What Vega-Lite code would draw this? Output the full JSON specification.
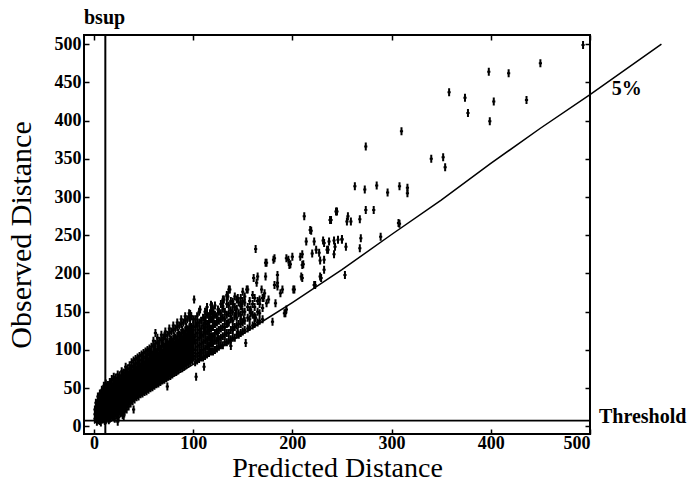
{
  "$schema": "https://vega.github.io/schema/vega-lite/v6.json",
  "width": 506,
  "height": 399,
  "autosize": {"type": "none"},
  "padding": {"left": 84, "top": 35, "right": 99, "bottom": 47},
  "background": "white",
  "config": {
    "view": {"stroke": "black", "strokeWidth": 2},
    "axis": {
      "domain": false, "grid": false, "tickColor": "black", "tickWidth": 1.5, "tickSize": -5,
      "labelFont": "Liberation Serif", "labelFontWeight": "bold", "labelFontSize": 18, "labelColor": "black",
      "titleFont": "Liberation Serif", "titleFontWeight": "normal", "titleFontSize": 28, "titleColor": "black"
    }
  },
  "datasets": {
    "pts": [
      {"x":1,"y":10},{"x":1,"y":16},{"x":1,"y":22},
      {"x":3,"y":6},{"x":3,"y":12},{"x":3,"y":18},{"x":3,"y":24},{"x":3,"y":30},
      {"x":5,"y":8},{"x":5,"y":14},{"x":5,"y":20},{"x":5,"y":26},{"x":5,"y":32},{"x":5,"y":38},
      {"x":7,"y":5},{"x":7,"y":11},{"x":7,"y":17},{"x":7,"y":23},{"x":7,"y":29},{"x":7,"y":35},{"x":7,"y":42},
      {"x":9,"y":9},{"x":9,"y":15},{"x":9,"y":21},{"x":9,"y":27},{"x":9,"y":33},{"x":9,"y":39},{"x":9,"y":46},
      {"x":11,"y":7},{"x":11,"y":13},{"x":11,"y":19},{"x":11,"y":25},{"x":11,"y":31},{"x":11,"y":37},{"x":11,"y":43},{"x":11,"y":50},
      {"x":13,"y":10},{"x":13,"y":16},{"x":13,"y":22},{"x":13,"y":28},{"x":13,"y":34},{"x":13,"y":40},{"x":13,"y":46},
      {"x":15,"y":8},{"x":15,"y":14},{"x":15,"y":20},{"x":15,"y":26},{"x":15,"y":32},{"x":15,"y":38},{"x":15,"y":44},{"x":15,"y":52},
      {"x":17,"y":11},{"x":17,"y":17},{"x":17,"y":23},{"x":17,"y":29},{"x":17,"y":35},{"x":17,"y":41},{"x":17,"y":47},{"x":17,"y":56},
      {"x":19,"y":13},{"x":19,"y":19},{"x":19,"y":25},{"x":19,"y":31},{"x":19,"y":37},{"x":19,"y":43},{"x":19,"y":49},
      {"x":21,"y":10},{"x":21,"y":16},{"x":21,"y":22},{"x":21,"y":28},{"x":21,"y":34},{"x":21,"y":40},{"x":21,"y":46},{"x":21,"y":52},{"x":21,"y":60},
      {"x":23,"y":14},{"x":23,"y":20},{"x":23,"y":26},{"x":23,"y":32},{"x":23,"y":38},{"x":23,"y":44},{"x":23,"y":50},{"x":23,"y":56},
      {"x":25,"y":12},{"x":25,"y":18},{"x":25,"y":24},{"x":25,"y":30},{"x":25,"y":36},{"x":25,"y":42},{"x":25,"y":48},{"x":25,"y":54},{"x":25,"y":62},
      {"x":27,"y":17},{"x":27,"y":23},{"x":27,"y":29},{"x":27,"y":35},{"x":27,"y":41},{"x":27,"y":47},{"x":27,"y":53},{"x":27,"y":59},
      {"x":29,"y":15},{"x":29,"y":21},{"x":29,"y":27},{"x":29,"y":33},{"x":29,"y":39},{"x":29,"y":45},{"x":29,"y":51},{"x":29,"y":57},{"x":29,"y":66},
      {"x":31,"y":19},{"x":31,"y":25},{"x":31,"y":31},{"x":31,"y":37},{"x":31,"y":43},{"x":31,"y":49},{"x":31,"y":55},{"x":31,"y":61},
      {"x":33,"y":22},{"x":33,"y":28},{"x":33,"y":34},{"x":33,"y":40},{"x":33,"y":46},{"x":33,"y":52},{"x":33,"y":58},{"x":33,"y":64},{"x":33,"y":70},
      {"x":35,"y":26},{"x":35,"y":32},{"x":35,"y":38},{"x":35,"y":44},{"x":35,"y":50},{"x":35,"y":56},{"x":35,"y":62},{"x":35,"y":68},
      {"x":37,"y":30},{"x":37,"y":36},{"x":37,"y":42},{"x":37,"y":48},{"x":37,"y":54},{"x":37,"y":60},{"x":37,"y":66},{"x":37,"y":74},
      {"x":39,"y":33},{"x":39,"y":39},{"x":39,"y":45},{"x":39,"y":51},{"x":39,"y":57},{"x":39,"y":63},{"x":39,"y":69},
      {"x":41,"y":35},{"x":41,"y":41},{"x":41,"y":47},{"x":41,"y":53},{"x":41,"y":59},{"x":41,"y":65},{"x":41,"y":71},{"x":41,"y":78},
      {"x":43,"y":38},{"x":43,"y":44},{"x":43,"y":50},{"x":43,"y":56},{"x":43,"y":62},{"x":43,"y":68},{"x":43,"y":74},
      {"x":45,"y":39},{"x":45,"y":45},{"x":45,"y":51},{"x":45,"y":57},{"x":45,"y":63},{"x":45,"y":69},{"x":45,"y":75},{"x":45,"y":84},
      {"x":47,"y":42},{"x":47,"y":48},{"x":47,"y":54},{"x":47,"y":60},{"x":47,"y":66},{"x":47,"y":72},{"x":47,"y":78},
      {"x":49,"y":43},{"x":49,"y":49},{"x":49,"y":55},{"x":49,"y":61},{"x":49,"y":67},{"x":49,"y":73},{"x":49,"y":79},{"x":49,"y":88},
      {"x":51,"y":45},{"x":51,"y":51},{"x":51,"y":57},{"x":51,"y":63},{"x":51,"y":69},{"x":51,"y":75},{"x":51,"y":81},
      {"x":53,"y":46},{"x":53,"y":52},{"x":53,"y":58},{"x":53,"y":64},{"x":53,"y":70},{"x":53,"y":76},{"x":53,"y":82},{"x":53,"y":90},
      {"x":55,"y":48},{"x":55,"y":54},{"x":55,"y":60},{"x":55,"y":66},{"x":55,"y":72},{"x":55,"y":78},{"x":55,"y":84},
      {"x":57,"y":50},{"x":57,"y":56},{"x":57,"y":62},{"x":57,"y":68},{"x":57,"y":74},{"x":57,"y":80},{"x":57,"y":86},{"x":57,"y":96},
      {"x":59,"y":51},{"x":59,"y":57},{"x":59,"y":63},{"x":59,"y":69},{"x":59,"y":75},{"x":59,"y":81},{"x":59,"y":87},{"x":59,"y":93},
      {"x":61,"y":53},{"x":61,"y":59},{"x":61,"y":65},{"x":61,"y":71},{"x":61,"y":77},{"x":61,"y":83},{"x":61,"y":89},{"x":61,"y":100},
      {"x":63,"y":55},{"x":63,"y":61},{"x":63,"y":67},{"x":63,"y":73},{"x":63,"y":79},{"x":63,"y":85},{"x":63,"y":91},{"x":63,"y":97},
      {"x":65,"y":56},{"x":65,"y":62},{"x":65,"y":68},{"x":65,"y":74},{"x":65,"y":80},{"x":65,"y":86},{"x":65,"y":92},{"x":65,"y":104},
      {"x":67,"y":58},{"x":67,"y":64},{"x":67,"y":70},{"x":67,"y":76},{"x":67,"y":82},{"x":67,"y":88},{"x":67,"y":94},{"x":67,"y":100},
      {"x":69,"y":60},{"x":69,"y":66},{"x":69,"y":72},{"x":69,"y":78},{"x":69,"y":84},{"x":69,"y":90},{"x":69,"y":96},{"x":69,"y":108},
      {"x":71,"y":61},{"x":71,"y":67},{"x":71,"y":73},{"x":71,"y":79},{"x":71,"y":85},{"x":71,"y":91},{"x":71,"y":97},{"x":71,"y":103},
      {"x":73,"y":63},{"x":73,"y":69},{"x":73,"y":75},{"x":73,"y":81},{"x":73,"y":87},{"x":73,"y":93},{"x":73,"y":99},{"x":73,"y":110},
      {"x":75,"y":65},{"x":75,"y":71},{"x":75,"y":77},{"x":75,"y":83},{"x":75,"y":89},{"x":75,"y":95},{"x":75,"y":101},{"x":75,"y":107},
      {"x":77,"y":66},{"x":77,"y":72},{"x":77,"y":78},{"x":77,"y":84},{"x":77,"y":90},{"x":77,"y":96},{"x":77,"y":102},{"x":77,"y":114},
      {"x":79,"y":68},{"x":79,"y":74},{"x":79,"y":80},{"x":79,"y":86},{"x":79,"y":92},{"x":79,"y":98},{"x":79,"y":104},{"x":79,"y":110},
      {"x":81,"y":70},{"x":81,"y":76},{"x":81,"y":82},{"x":81,"y":88},{"x":81,"y":94},{"x":81,"y":100},{"x":81,"y":106},{"x":81,"y":118},
      {"x":83,"y":71},{"x":83,"y":77},{"x":83,"y":83},{"x":83,"y":89},{"x":83,"y":95},{"x":83,"y":101},{"x":83,"y":107},{"x":83,"y":113},
      {"x":85,"y":73},{"x":85,"y":79},{"x":85,"y":85},{"x":85,"y":91},{"x":85,"y":97},{"x":85,"y":103},{"x":85,"y":109},{"x":85,"y":122},
      {"x":87,"y":75},{"x":87,"y":81},{"x":87,"y":87},{"x":87,"y":93},{"x":87,"y":99},{"x":87,"y":105},{"x":87,"y":111},{"x":87,"y":117},
      {"x":89,"y":76},{"x":89,"y":82},{"x":89,"y":88},{"x":89,"y":94},{"x":89,"y":100},{"x":89,"y":106},{"x":89,"y":112},{"x":89,"y":126},
      {"x":91,"y":78},{"x":91,"y":84},{"x":91,"y":90},{"x":91,"y":96},{"x":91,"y":102},{"x":91,"y":108},{"x":91,"y":114},{"x":91,"y":120},
      {"x":93,"y":80},{"x":93,"y":86},{"x":93,"y":92},{"x":93,"y":98},{"x":93,"y":104},{"x":93,"y":110},{"x":93,"y":116},{"x":93,"y":130},
      {"x":95,"y":82},{"x":95,"y":88},{"x":95,"y":94},{"x":95,"y":100},{"x":95,"y":106},{"x":95,"y":112},{"x":95,"y":118},{"x":95,"y":124},
      {"x":97,"y":84},{"x":97,"y":90},{"x":97,"y":96},{"x":97,"y":102},{"x":97,"y":108},{"x":97,"y":114},{"x":97,"y":120},{"x":97,"y":134},
      {"x":99,"y":86},{"x":99,"y":92},{"x":99,"y":98},{"x":99,"y":104},{"x":99,"y":110},{"x":99,"y":116},{"x":99,"y":122},
      {"x":2,"y":13},{"x":2,"y":19},{"x":2,"y":25},{"x":2,"y":31},
      {"x":4,"y":9},{"x":4,"y":15},{"x":4,"y":21},{"x":4,"y":27},{"x":4,"y":33},{"x":4,"y":39},
      {"x":6,"y":7},{"x":6,"y":13},{"x":6,"y":19},{"x":6,"y":25},{"x":6,"y":31},{"x":6,"y":37},{"x":6,"y":43},
      {"x":8,"y":12},{"x":8,"y":18},{"x":8,"y":24},{"x":8,"y":30},{"x":8,"y":36},{"x":8,"y":42},{"x":8,"y":48},
      {"x":10,"y":10},{"x":10,"y":16},{"x":10,"y":22},{"x":10,"y":28},{"x":10,"y":34},{"x":10,"y":40},{"x":10,"y":46},{"x":10,"y":53},
      {"x":12,"y":8},{"x":12,"y":14},{"x":12,"y":20},{"x":12,"y":26},{"x":12,"y":32},{"x":12,"y":38},{"x":12,"y":44},{"x":12,"y":50},{"x":12,"y":56},
      {"x":14,"y":12},{"x":14,"y":18},{"x":14,"y":24},{"x":14,"y":30},{"x":14,"y":36},{"x":14,"y":42},{"x":14,"y":48},{"x":14,"y":54},
      {"x":16,"y":10},{"x":16,"y":16},{"x":16,"y":22},{"x":16,"y":28},{"x":16,"y":34},{"x":16,"y":40},{"x":16,"y":46},{"x":16,"y":52},{"x":16,"y":58},
      {"x":18,"y":14},{"x":18,"y":20},{"x":18,"y":26},{"x":18,"y":32},{"x":18,"y":38},{"x":18,"y":44},{"x":18,"y":50},{"x":18,"y":56},{"x":18,"y":62},
      {"x":20,"y":12},{"x":20,"y":18},{"x":20,"y":24},{"x":20,"y":30},{"x":20,"y":36},{"x":20,"y":42},{"x":20,"y":48},{"x":20,"y":54},{"x":20,"y":60},{"x":20,"y":65},
      {"x":22,"y":17},{"x":22,"y":23},{"x":22,"y":29},{"x":22,"y":35},{"x":22,"y":41},{"x":22,"y":47},{"x":22,"y":53},{"x":22,"y":59},{"x":22,"y":64},
      {"x":24,"y":15},{"x":24,"y":21},{"x":24,"y":27},{"x":24,"y":33},{"x":24,"y":39},{"x":24,"y":45},{"x":24,"y":51},{"x":24,"y":57},{"x":24,"y":63},{"x":24,"y":68},
      {"x":26,"y":20},{"x":26,"y":26},{"x":26,"y":32},{"x":26,"y":38},{"x":26,"y":44},{"x":26,"y":50},{"x":26,"y":56},{"x":26,"y":62},{"x":26,"y":67},
      {"x":28,"y":18},{"x":28,"y":24},{"x":28,"y":30},{"x":28,"y":36},{"x":28,"y":42},{"x":28,"y":48},{"x":28,"y":54},{"x":28,"y":60},{"x":28,"y":66},{"x":28,"y":72},
      {"x":30,"y":22},{"x":30,"y":28},{"x":30,"y":34},{"x":30,"y":40},{"x":30,"y":46},{"x":30,"y":52},{"x":30,"y":58},{"x":30,"y":64},{"x":30,"y":70},
      {"x":32,"y":25},{"x":32,"y":31},{"x":32,"y":37},{"x":32,"y":43},{"x":32,"y":49},{"x":32,"y":55},{"x":32,"y":61},{"x":32,"y":67},{"x":32,"y":73},{"x":32,"y":78},
      {"x":34,"y":29},{"x":34,"y":35},{"x":34,"y":41},{"x":34,"y":47},{"x":34,"y":53},{"x":34,"y":59},{"x":34,"y":65},{"x":34,"y":71},{"x":34,"y":76},
      {"x":36,"y":33},{"x":36,"y":39},{"x":36,"y":45},{"x":36,"y":51},{"x":36,"y":57},{"x":36,"y":63},{"x":36,"y":69},{"x":36,"y":75},{"x":36,"y":80},
      {"x":38,"y":35},{"x":38,"y":41},{"x":38,"y":47},{"x":38,"y":53},{"x":38,"y":59},{"x":38,"y":65},{"x":38,"y":71},{"x":38,"y":77},{"x":38,"y":84},
      {"x":40,"y":37},{"x":40,"y":43},{"x":40,"y":49},{"x":40,"y":55},{"x":40,"y":61},{"x":40,"y":67},{"x":40,"y":73},{"x":40,"y":79},{"x":40,"y":86},
      {"x":42,"y":40},{"x":42,"y":46},{"x":42,"y":52},{"x":42,"y":58},{"x":42,"y":64},{"x":42,"y":70},{"x":42,"y":76},{"x":42,"y":82},{"x":42,"y":88},
      {"x":44,"y":41},{"x":44,"y":47},{"x":44,"y":53},{"x":44,"y":59},{"x":44,"y":65},{"x":44,"y":71},{"x":44,"y":77},{"x":44,"y":83},{"x":44,"y":90},
      {"x":46,"y":44},{"x":46,"y":50},{"x":46,"y":56},{"x":46,"y":62},{"x":46,"y":68},{"x":46,"y":74},{"x":46,"y":80},{"x":46,"y":86},{"x":46,"y":92},
      {"x":48,"y":45},{"x":48,"y":51},{"x":48,"y":57},{"x":48,"y":63},{"x":48,"y":69},{"x":48,"y":75},{"x":48,"y":81},{"x":48,"y":87},{"x":48,"y":94},
      {"x":50,"y":47},{"x":50,"y":53},{"x":50,"y":59},{"x":50,"y":65},{"x":50,"y":71},{"x":50,"y":77},{"x":50,"y":83},{"x":50,"y":89},{"x":50,"y":96},
      {"x":52,"y":49},{"x":52,"y":55},{"x":52,"y":61},{"x":52,"y":67},{"x":52,"y":73},{"x":52,"y":79},{"x":52,"y":85},{"x":52,"y":91},{"x":52,"y":98},
      {"x":54,"y":51},{"x":54,"y":57},{"x":54,"y":63},{"x":54,"y":69},{"x":54,"y":75},{"x":54,"y":81},{"x":54,"y":87},{"x":54,"y":93},{"x":54,"y":100},
      {"x":56,"y":53},{"x":56,"y":59},{"x":56,"y":65},{"x":56,"y":71},{"x":56,"y":77},{"x":56,"y":83},{"x":56,"y":89},{"x":56,"y":95},{"x":56,"y":102},
      {"x":58,"y":54},{"x":58,"y":60},{"x":58,"y":66},{"x":58,"y":72},{"x":58,"y":78},{"x":58,"y":84},{"x":58,"y":90},{"x":58,"y":96},{"x":58,"y":104},
      {"x":60,"y":56},{"x":60,"y":62},{"x":60,"y":68},{"x":60,"y":74},{"x":60,"y":80},{"x":60,"y":86},{"x":60,"y":92},{"x":60,"y":98},{"x":60,"y":106},{"x":60,"y":112},
      {"x":62,"y":58},{"x":62,"y":64},{"x":62,"y":70},{"x":62,"y":76},{"x":62,"y":82},{"x":62,"y":88},{"x":62,"y":94},{"x":62,"y":100},{"x":62,"y":108},
      {"x":64,"y":59},{"x":64,"y":65},{"x":64,"y":71},{"x":64,"y":77},{"x":64,"y":83},{"x":64,"y":89},{"x":64,"y":95},{"x":64,"y":101},{"x":64,"y":110},{"x":64,"y":116},
      {"x":66,"y":61},{"x":66,"y":67},{"x":66,"y":73},{"x":66,"y":79},{"x":66,"y":85},{"x":66,"y":91},{"x":66,"y":97},{"x":66,"y":103},{"x":66,"y":112},
      {"x":68,"y":63},{"x":68,"y":69},{"x":68,"y":75},{"x":68,"y":81},{"x":68,"y":87},{"x":68,"y":93},{"x":68,"y":99},{"x":68,"y":105},{"x":68,"y":114},{"x":68,"y":120},
      {"x":70,"y":64},{"x":70,"y":70},{"x":70,"y":76},{"x":70,"y":82},{"x":70,"y":88},{"x":70,"y":94},{"x":70,"y":100},{"x":70,"y":106},{"x":70,"y":116},
      {"x":72,"y":66},{"x":72,"y":72},{"x":72,"y":78},{"x":72,"y":84},{"x":72,"y":90},{"x":72,"y":96},{"x":72,"y":102},{"x":72,"y":108},{"x":72,"y":118},{"x":72,"y":124},
      {"x":74,"y":68},{"x":74,"y":74},{"x":74,"y":80},{"x":74,"y":86},{"x":74,"y":92},{"x":74,"y":98},{"x":74,"y":104},{"x":74,"y":110},{"x":74,"y":120},
      {"x":76,"y":69},{"x":76,"y":75},{"x":76,"y":81},{"x":76,"y":87},{"x":76,"y":93},{"x":76,"y":99},{"x":76,"y":105},{"x":76,"y":111},{"x":76,"y":122},{"x":76,"y":128},
      {"x":78,"y":71},{"x":78,"y":77},{"x":78,"y":83},{"x":78,"y":89},{"x":78,"y":95},{"x":78,"y":101},{"x":78,"y":107},{"x":78,"y":113},{"x":78,"y":124},
      {"x":80,"y":73},{"x":80,"y":79},{"x":80,"y":85},{"x":80,"y":91},{"x":80,"y":97},{"x":80,"y":103},{"x":80,"y":109},{"x":80,"y":115},{"x":80,"y":126},{"x":80,"y":132},
      {"x":82,"y":74},{"x":82,"y":80},{"x":82,"y":86},{"x":82,"y":92},{"x":82,"y":98},{"x":82,"y":104},{"x":82,"y":110},{"x":82,"y":116},{"x":82,"y":128},
      {"x":84,"y":76},{"x":84,"y":82},{"x":84,"y":88},{"x":84,"y":94},{"x":84,"y":100},{"x":84,"y":106},{"x":84,"y":112},{"x":84,"y":118},{"x":84,"y":130},{"x":84,"y":136},
      {"x":86,"y":78},{"x":86,"y":84},{"x":86,"y":90},{"x":86,"y":96},{"x":86,"y":102},{"x":86,"y":108},{"x":86,"y":114},{"x":86,"y":120},{"x":86,"y":132},
      {"x":88,"y":80},{"x":88,"y":86},{"x":88,"y":92},{"x":88,"y":98},{"x":88,"y":104},{"x":88,"y":110},{"x":88,"y":116},{"x":88,"y":122},{"x":88,"y":134},{"x":88,"y":140},
      {"x":90,"y":81},{"x":90,"y":87},{"x":90,"y":93},{"x":90,"y":99},{"x":90,"y":105},{"x":90,"y":111},{"x":90,"y":117},{"x":90,"y":123},{"x":90,"y":136},
      {"x":92,"y":83},{"x":92,"y":89},{"x":92,"y":95},{"x":92,"y":101},{"x":92,"y":107},{"x":92,"y":113},{"x":92,"y":119},{"x":92,"y":125},{"x":92,"y":138},{"x":92,"y":144},
      {"x":94,"y":85},{"x":94,"y":91},{"x":94,"y":97},{"x":94,"y":103},{"x":94,"y":109},{"x":94,"y":115},{"x":94,"y":121},{"x":94,"y":127},{"x":94,"y":140},
      {"x":96,"y":86},{"x":96,"y":92},{"x":96,"y":98},{"x":96,"y":104},{"x":96,"y":110},{"x":96,"y":116},{"x":96,"y":122},{"x":96,"y":128},{"x":96,"y":142},{"x":96,"y":148},
      {"x":98,"y":88},{"x":98,"y":94},{"x":98,"y":100},{"x":98,"y":106},{"x":98,"y":112},{"x":98,"y":118},{"x":98,"y":124},{"x":98,"y":130},{"x":98,"y":144},
      {"x":100,"y":90},{"x":100,"y":96},{"x":100,"y":102},{"x":100,"y":108},{"x":100,"y":114},{"x":100,"y":120},{"x":100,"y":126},{"x":100,"y":132},{"x":100,"y":140},
      {"x":102,"y":84},{"x":102,"y":92},{"x":102,"y":100},{"x":102,"y":110},{"x":102,"y":120},{"x":102,"y":130},{"x":102,"y":140},
      {"x":104,"y":86},{"x":104,"y":95},{"x":104,"y":104},{"x":104,"y":113},{"x":104,"y":122},{"x":104,"y":132},{"x":104,"y":144},
      {"x":106,"y":88},{"x":106,"y":96},{"x":106,"y":106},{"x":106,"y":116},{"x":106,"y":126},{"x":106,"y":136},{"x":106,"y":150},
      {"x":108,"y":90},{"x":108,"y":99},{"x":108,"y":108},{"x":108,"y":118},{"x":108,"y":128},{"x":108,"y":138},
      {"x":110,"y":90},{"x":110,"y":100},{"x":110,"y":110},{"x":110,"y":120},{"x":110,"y":132},{"x":110,"y":142},
      {"x":112,"y":92},{"x":112,"y":102},{"x":112,"y":112},{"x":112,"y":122},{"x":112,"y":130},{"x":112,"y":138},{"x":112,"y":150},
      {"x":114,"y":94},{"x":114,"y":104},{"x":114,"y":114},{"x":114,"y":124},{"x":114,"y":134},{"x":114,"y":146},{"x":114,"y":156},
      {"x":116,"y":96},{"x":116,"y":106},{"x":116,"y":116},{"x":116,"y":126},{"x":116,"y":136},{"x":116,"y":144},
      {"x":118,"y":98},{"x":118,"y":108},{"x":118,"y":118},{"x":118,"y":128},{"x":118,"y":140},{"x":118,"y":150},
      {"x":120,"y":98},{"x":120,"y":108},{"x":120,"y":118},{"x":120,"y":130},{"x":120,"y":140},{"x":120,"y":152},
      {"x":122,"y":100},{"x":122,"y":112},{"x":122,"y":122},{"x":122,"y":134},{"x":122,"y":146},{"x":122,"y":158},
      {"x":124,"y":102},{"x":124,"y":112},{"x":124,"y":124},{"x":124,"y":136},{"x":124,"y":144},
      {"x":126,"y":104},{"x":126,"y":114},{"x":126,"y":126},{"x":126,"y":138},{"x":126,"y":150},
      {"x":128,"y":106},{"x":128,"y":116},{"x":128,"y":128},{"x":128,"y":140},{"x":128,"y":148},{"x":128,"y":160},
      {"x":130,"y":106},{"x":130,"y":118},{"x":130,"y":130},{"x":130,"y":142},{"x":130,"y":154},{"x":130,"y":166},
      {"x":132,"y":110},{"x":132,"y":120},{"x":132,"y":130},{"x":132,"y":140},{"x":132,"y":150},
      {"x":134,"y":110},{"x":134,"y":122},{"x":134,"y":134},{"x":134,"y":146},{"x":134,"y":160},{"x":134,"y":172},
      {"x":136,"y":112},{"x":136,"y":122},{"x":136,"y":136},{"x":136,"y":148},{"x":136,"y":158},
      {"x":138,"y":114},{"x":138,"y":126},{"x":138,"y":140},{"x":138,"y":152},{"x":138,"y":164},
      {"x":140,"y":116},{"x":140,"y":126},{"x":140,"y":138},{"x":140,"y":150},{"x":140,"y":160},
      {"x":142,"y":116},{"x":142,"y":130},{"x":142,"y":144},{"x":142,"y":156},{"x":142,"y":170},
      {"x":144,"y":120},{"x":144,"y":132},{"x":144,"y":142},{"x":144,"y":154},
      {"x":146,"y":120},{"x":146,"y":134},{"x":146,"y":148},{"x":146,"y":162},
      {"x":148,"y":122},{"x":148,"y":134},{"x":148,"y":146},{"x":148,"y":158},{"x":148,"y":168},
      {"x":150,"y":124},{"x":150,"y":136},{"x":150,"y":150},{"x":150,"y":164},{"x":150,"y":176},
      {"x":152,"y":126},{"x":152,"y":138},{"x":152,"y":150},{"x":152,"y":162},
      {"x":155,"y":128},{"x":155,"y":142},{"x":155,"y":156},
      {"x":157,"y":130},{"x":157,"y":140},{"x":157,"y":152},{"x":157,"y":164},
      {"x":160,"y":132},{"x":160,"y":146},{"x":160,"y":160},{"x":160,"y":172},
      {"x":162,"y":134},{"x":162,"y":144},{"x":162,"y":156},{"x":162,"y":168},
      {"x":165,"y":136},{"x":165,"y":150},{"x":165,"y":164},
      {"x":167,"y":138},{"x":167,"y":148},{"x":167,"y":160},
      {"x":170,"y":140},{"x":170,"y":155},{"x":170,"y":168},
      {"x":493,"y":499},{"x":450,"y":475},{"x":398,"y":464},{"x":418,"y":462},{"x":358,"y":437},{"x":374,"y":430},
      {"x":403,"y":425},{"x":436,"y":427},{"x":377,"y":410},{"x":399,"y":399},{"x":310,"y":386},{"x":274,"y":366},
      {"x":340,"y":350},{"x":352,"y":352},{"x":354,"y":339},
      {"x":263,"y":314},{"x":273,"y":310},{"x":285,"y":315},{"x":296,"y":306},{"x":308,"y":314},{"x":316,"y":312},{"x":316,"y":305},
      {"x":212,"y":275},{"x":244,"y":281},{"x":239,"y":270},{"x":256,"y":275},{"x":259,"y":268},{"x":268,"y":271},{"x":274,"y":283},
      {"x":282,"y":283},{"x":308,"y":265},{"x":219,"y":256},{"x":214,"y":242},{"x":222,"y":242},{"x":231,"y":243},{"x":237,"y":242},
      {"x":242,"y":243},{"x":246,"y":244},{"x":250,"y":245},{"x":269,"y":246},{"x":289,"y":248},{"x":254,"y":235},{"x":268,"y":233},
      {"x":224,"y":231},{"x":227,"y":227},{"x":236,"y":231},{"x":242,"y":225},{"x":232,"y":218},{"x":253,"y":198},{"x":229,"y":194},
      {"x":222,"y":185},{"x":163,"y":232},{"x":173,"y":214},{"x":182,"y":220},{"x":194,"y":220},{"x":197,"y":211},{"x":200,"y":222},
      {"x":210,"y":225},{"x":210,"y":211},{"x":209,"y":196},{"x":165,"y":196},{"x":173,"y":196},{"x":185,"y":198},{"x":202,"y":179},
      {"x":185,"y":183},{"x":182,"y":185},{"x":190,"y":179},{"x":172,"y":174},{"x":176,"y":166},{"x":167,"y":166},{"x":155,"y":179},
      {"x":152,"y":170},{"x":148,"y":157},{"x":136,"y":179},{"x":135,"y":170},{"x":131,"y":166},{"x":140,"y":163},{"x":145,"y":168},
      {"x":101,"y":166},{"x":158,"y":153},{"x":162,"y":142},{"x":180,"y":137},{"x":192,"y":148},{"x":194,"y":153},{"x":118,"y":159},
      {"x":120,"y":148},{"x":125,"y":153},{"x":130,"y":157},{"x":138,"y":144},{"x":143,"y":148},{"x":148,"y":140},{"x":135,"y":135},
      {"x":140,"y":129},{"x":145,"y":124},{"x":153,"y":109},{"x":138,"y":105},{"x":125,"y":118},{"x":118,"y":109},{"x":111,"y":126},
      {"x":108,"y":120},{"x":104,"y":135},{"x":98,"y":144},{"x":96,"y":126},{"x":91,"y":118},{"x":101,"y":113},{"x":108,"y":96},
      {"x":111,"y":78},{"x":103,"y":65},{"x":88,"y":100},{"x":71,"y":118},{"x":62,"y":122},{"x":77,"y":109},{"x":84,"y":91},
      {"x":74,"y":91},{"x":54,"y":98},{"x":67,"y":100},{"x":64,"y":83},{"x":56,"y":74},{"x":44,"y":83},{"x":49,"y":74},{"x":37,"y":74},
      {"x":30,"y":70},{"x":40,"y":61},{"x":27,"y":57},{"x":74,"y":52},{"x":24,"y":6},{"x":30,"y":13},{"x":40,"y":22},
      {"x":245,"y":281},{"x":238,"y":270},{"x":255,"y":268},{"x":218,"y":257},{"x":181,"y":218},{"x":196,"y":218},{"x":198,"y":212},
      {"x":174,"y":214},{"x":208,"y":222},{"x":211,"y":212},{"x":220,"y":226},{"x":228,"y":217},{"x":235,"y":231},{"x":243,"y":235},
      {"x":232,"y":240},{"x":250,"y":244},{"x":201,"y":179},{"x":210,"y":194},{"x":228,"y":196},{"x":232,"y":205},{"x":223,"y":185},
      {"x":193,"y":148},{"x":164,"y":188},{"x":154,"y":179},{"x":169,"y":179},{"x":171,"y":168},{"x":185,"y":188},{"x":188,"y":174},
      {"x":183,"y":161},{"x":174,"y":161},{"x":161,"y":194},{"x":137,"y":179},{"x":134,"y":170},{"x":144,"y":166},{"x":149,"y":157},
      {"x":158,"y":148},{"x":163,"y":142},{"x":151,"y":140},{"x":119,"y":157},{"x":97,"y":147},{"x":107,"y":153},{"x":117,"y":148},
      {"x":112,"y":140},{"x":307,"y":266}
    ],
    "curve": [
      {"x":0,"y":4},{"x":50,"y":42},{"x":100,"y":81},{"x":150,"y":121},{"x":200,"y":162},{"x":250,"y":205},
      {"x":300,"y":251},{"x":350,"y":296},{"x":400,"y":344},{"x":450,"y":390},{"x":500,"y":434},{"x":572,"y":500}
    ],
    "notes": [
      {"x":-10,"y":527,"t":"bsup"},
      {"x":522,"y":434,"t":"5%"},
      {"x":509,"y":4.6,"t":"Threshold"}
    ]
  },
  "layer": [
    {
      "data": {"name": "pts"},
      "mark": {"type": "point", "shape": "M0,-1L0,1M-0.4,0L0.4,0", "size": 64, "filled": false, "stroke": "black", "strokeWidth": 2, "opacity": 1},
      "encoding": {
        "x": {"field": "x", "type": "quantitative", "scale": {"domain": [-10, 500], "nice": false, "zero": false},
              "axis": {"orient": "bottom", "values": [0,100,200,300,400,500], "title": "Predicted Distance", "labelPadding": 5, "titlePadding": 2}},
        "y": {"field": "y", "type": "quantitative", "scale": {"domain": [-10, 512], "nice": false, "zero": false},
              "axis": {"orient": "left", "values": [0,50,100,150,200,250,300,350,400,450,500], "title": "Observed Distance", "titleFontSize": 30, "labelPadding": 8, "titlePadding": 18}}
      }
    },
    {
      "data": {"values": [{"t": 7.5}]},
      "mark": {"type": "rule", "stroke": "black", "strokeWidth": 1.8},
      "encoding": {"y": {"field": "t", "type": "quantitative", "scale": {"domain": [-10, 512], "nice": false, "zero": false}, "axis": null}}
    },
    {
      "data": {"values": [{"b": 11.5}]},
      "mark": {"type": "rule", "stroke": "black", "strokeWidth": 2},
      "encoding": {"x": {"field": "b", "type": "quantitative", "scale": {"domain": [-10, 500], "nice": false, "zero": false}, "axis": null}}
    },
    {
      "data": {"name": "curve"},
      "mark": {"type": "line", "stroke": "black", "strokeWidth": 1.5},
      "encoding": {
        "x": {"field": "x", "type": "quantitative", "scale": {"domain": [-10, 500], "nice": false, "zero": false},
              "axis": {"orient": "top", "values": [0,100,200,300,400,500], "labels": false, "title": null}},
        "y": {"field": "y", "type": "quantitative", "scale": {"domain": [-10, 512], "nice": false, "zero": false},
              "axis": {"orient": "right", "values": [0,50,100,150,200,250,300,350,400,450,500], "labels": false, "title": null}}
      }
    },
    {
      "data": {"name": "notes"},
      "mark": {"type": "text", "align": "left", "baseline": "alphabetic", "font": "Liberation Serif", "fontWeight": "bold", "fontSize": 20, "color": "black"},
      "encoding": {
        "x": {"field": "x", "type": "quantitative", "scale": {"domain": [-10, 500], "nice": false, "zero": false}, "axis": null},
        "y": {"field": "y", "type": "quantitative", "scale": {"domain": [-10, 512], "nice": false, "zero": false}, "axis": null},
        "text": {"field": "t"}
      }
    }
  ],
  "resolve": {"axis": {"x": "independent", "y": "independent"}}
}
